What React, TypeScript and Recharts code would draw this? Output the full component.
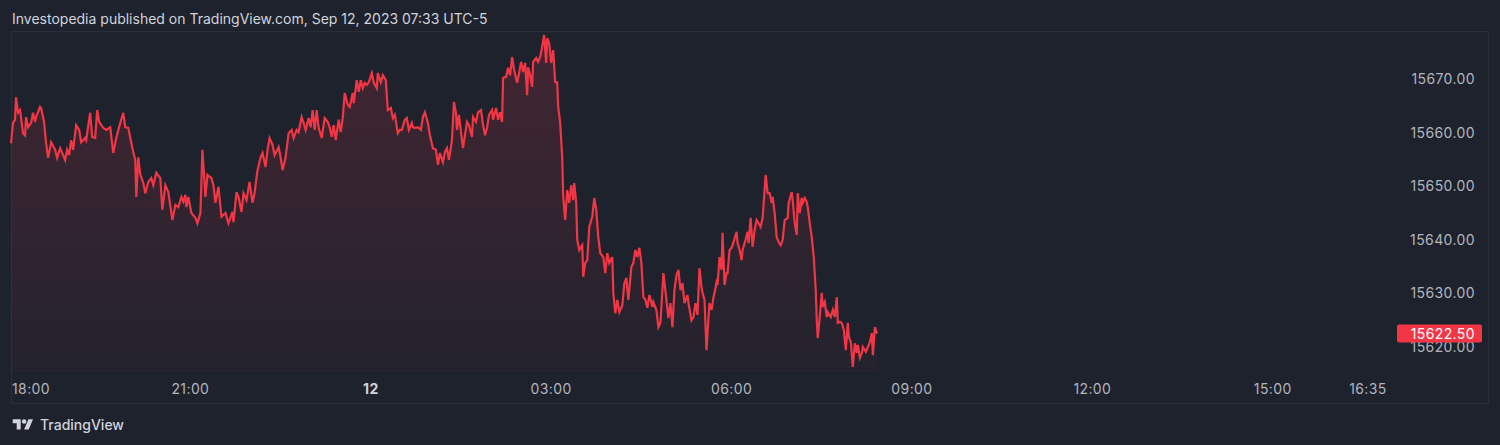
import React from 'react';
import { ComposedChart, Area, XAxis, YAxis } from 'recharts';

// minutes since 18:00 (Sep 11)
const times = [
  1, 3, 5, 6, 8, 10, 11, 13, 15, 16, 18, 21, 23, 25, 26, 30, 31, 34, 36, 38,
  41, 45, 47, 50, 53, 55, 57, 59, 61, 63, 66, 69, 71, 75, 76, 80, 82, 85, 87, 89,
  93, 96, 100, 103, 106, 110, 113, 115, 118, 121, 123, 125, 126, 128, 130, 131, 133, 135, 138, 141,
  143, 146, 150, 152, 155, 158, 162, 165, 168, 171, 173, 175, 176, 178, 181, 185, 187, 190, 192, 195,
  197, 201, 203, 205, 208, 211, 215, 218, 222, 223, 226, 228, 231, 233, 236, 239, 242, 244, 247, 250,
  252, 255, 257, 259, 262, 264, 268, 270, 272, 275, 278, 281, 283, 286, 288, 291, 293, 295, 298, 300,
  302, 304, 306, 308, 311, 314, 317, 319, 321, 323, 325, 328, 330, 332, 334, 337, 339, 342, 343, 346,
  348, 350, 352, 354, 356, 358, 361, 363, 366, 367, 370, 372, 375, 377, 380, 382, 384, 387, 389, 391,
  394, 396, 398, 401, 402, 405, 407, 410, 412, 414, 417, 419, 422, 425, 427, 429, 432, 434, 436, 438,
  441, 443, 445, 446, 448, 451, 452, 456, 458, 461, 462, 465, 467, 470, 472, 474, 476, 478, 481, 482,
  485, 487, 489, 491, 492, 495, 497, 499, 501, 503, 506, 508, 510, 512, 514, 516, 517, 519, 521, 522,
  525, 527, 529, 531, 533, 535, 536, 538, 540, 542, 544, 546, 547, 549, 551, 552, 554, 556, 558, 560,
  562, 563, 565, 566, 568, 571, 572, 574, 576, 578, 581, 583, 585, 587, 589, 592, 594, 596, 598, 601,
  602, 604, 606, 608, 611, 613, 615, 617, 620, 622, 624, 626, 628, 630, 632, 634, 636, 638, 641, 642,
  645, 647, 649, 652, 655, 657, 659, 661, 663, 665, 667, 669, 671, 673, 676, 677, 680, 682, 684, 686,
  688, 690, 691, 693, 695, 697, 698, 700, 702, 704, 705, 706, 708, 710, 711, 713, 715, 716, 718, 720,
  722, 725, 726, 728, 730, 731, 734, 736, 737, 739, 741, 743, 745, 747, 749, 751, 754, 756, 758, 760,
  761, 763, 765, 767, 769, 771, 773, 776, 777, 780, 781, 783, 785, 786, 788, 790, 791, 793, 795, 796,
  798, 800, 802, 804, 805, 806, 808, 810, 811, 813, 815, 816, 819, 821, 823, 825, 826, 828, 830, 832,
  834, 836, 837, 839, 841, 843, 845, 846, 848, 850, 851, 854, 856, 858, 860, 861, 863, 865,
];

const prices = [
  15658.0, 15661.8, 15662.4, 15666.6, 15663.7, 15664.2, 15662.9, 15659.9, 15659.5, 15662.9, 15661.0, 15661.8, 15663.7, 15662.0, 15662.9, 15664.8, 15664.6, 15662.0, 15658.1, 15655.3,
  15658.2, 15656.8, 15655.3, 15657.1, 15655.8, 15654.9, 15656.8, 15655.8, 15658.6, 15656.8, 15661.4, 15660.5, 15658.2, 15659.0, 15658.6, 15663.7, 15659.2, 15659.0, 15664.2, 15662.0,
  15660.9, 15660.5, 15661.0, 15656.2, 15659.0, 15661.8, 15663.7, 15661.0, 15660.9, 15658.1, 15656.4, 15654.9, 15648.0, 15655.4, 15652.1, 15651.7, 15650.6, 15648.7, 15650.8, 15651.5,
  15650.2, 15652.5, 15651.5, 15645.6, 15650.2, 15648.9, 15643.7, 15646.5, 15646.1, 15648.0, 15647.1, 15648.4, 15646.1, 15648.0, 15645.0, 15644.1, 15643.1, 15645.0, 15656.8, 15648.0,
  15652.1, 15651.5, 15650.2, 15646.9, 15649.9, 15644.3, 15645.0, 15643.1, 15645.2, 15643.3, 15648.9, 15648.0, 15645.2, 15648.7, 15647.4, 15650.8, 15646.9, 15648.7, 15653.0, 15655.4,
  15656.2, 15653.6, 15656.8, 15659.0, 15657.7, 15655.8, 15657.3, 15655.4, 15653.0, 15655.4, 15659.9, 15660.5, 15659.0, 15660.5, 15660.1, 15662.9, 15661.8, 15660.5, 15662.7, 15661.0,
  15664.2, 15660.5, 15664.2, 15660.9, 15659.0, 15662.7, 15662.0, 15661.0, 15659.2, 15661.4, 15658.6, 15662.4, 15660.1, 15662.7, 15667.4, 15665.2, 15664.8, 15667.4, 15665.5, 15669.8,
  15667.6, 15669.8, 15668.3, 15669.3, 15668.9, 15669.4, 15671.1, 15669.3, 15668.3, 15671.1, 15669.4, 15670.7, 15669.8, 15664.2, 15664.6, 15662.7, 15663.3, 15659.9, 15660.5, 15660.5,
  15662.4, 15662.7, 15660.5, 15661.8, 15661.0, 15660.9, 15661.0, 15660.5, 15662.9, 15663.8, 15661.8, 15659.5, 15657.1, 15656.8, 15654.0, 15656.2, 15654.5, 15656.4, 15657.1, 15654.9,
  15658.6, 15665.7, 15663.7, 15660.5, 15663.3, 15658.6, 15657.1, 15662.0, 15661.4, 15659.2, 15662.9, 15662.0, 15663.8, 15664.2, 15661.4, 15659.5, 15660.9, 15663.3, 15664.2, 15662.4,
  15664.6, 15662.4, 15663.8, 15662.0, 15670.2, 15670.4, 15672.1, 15670.7, 15674.1, 15671.7, 15669.3, 15671.1, 15673.2, 15671.3, 15673.0, 15667.0, 15672.2, 15670.7, 15668.5, 15673.2,
  15673.9, 15673.2, 15674.1, 15676.0, 15678.2, 15673.0, 15677.6, 15676.7, 15673.0, 15675.4, 15669.4, 15669.4, 15664.8, 15661.8, 15655.4, 15648.0, 15643.7, 15649.3, 15646.9, 15650.2,
  15647.4, 15650.6, 15646.9, 15640.0, 15638.1, 15639.0, 15633.1, 15635.7, 15636.2, 15642.4, 15644.3, 15647.8, 15645.6, 15640.5, 15637.5, 15636.8, 15633.8, 15637.5, 15635.7, 15636.8,
  15630.1, 15626.3, 15628.8, 15626.5, 15627.8, 15631.9, 15632.9, 15628.8, 15634.9, 15635.7, 15638.1, 15636.8, 15638.5, 15635.7, 15629.3, 15628.8, 15627.3, 15629.7, 15627.5, 15628.4,
  15626.9, 15623.7, 15624.5, 15633.8, 15628.8, 15625.4, 15628.2, 15623.7, 15630.6, 15633.4, 15634.4, 15630.6, 15631.9, 15628.2, 15629.7, 15628.2, 15625.0, 15625.6, 15628.2, 15626.0,
  15634.7, 15631.2, 15630.1, 15628.8, 15619.4, 15625.6, 15628.2, 15626.9, 15629.3, 15631.0, 15632.1, 15631.6, 15636.8, 15634.4, 15641.3, 15631.6, 15633.8, 15633.8, 15638.1, 15638.5,
  15639.6, 15641.5, 15639.4, 15638.1, 15636.2, 15638.1, 15640.0, 15641.5, 15639.4, 15644.1, 15638.7, 15641.8, 15643.7, 15643.1, 15642.4, 15644.1, 15652.1, 15648.7, 15648.7, 15646.9,
  15648.0, 15645.0, 15640.5, 15639.6, 15639.0, 15640.0, 15643.7, 15644.1, 15646.9, 15648.9, 15647.4, 15643.1, 15640.9, 15648.7, 15645.0, 15647.8, 15646.9, 15647.8, 15647.1, 15646.1,
  15643.1, 15640.5, 15636.8, 15630.6, 15625.0, 15621.7, 15625.6, 15630.1, 15627.5, 15628.4, 15625.6, 15626.5, 15625.6, 15626.9, 15625.6, 15629.3, 15624.5, 15624.7, 15624.5, 15623.2,
  15619.4, 15624.5, 15621.9, 15620.9, 15616.3, 15620.7, 15618.9, 15620.4, 15618.0, 15618.9, 15620.0, 15619.1, 15620.0, 15620.9, 15622.6, 15618.5, 15623.7, 15622.5,
];

const timeTicks = [0, 180, 360, 540, 720, 900, 1080, 1260, 1355];
const timeLabels = ['18:00', '21:00', '12', '03:00', '06:00', '09:00', '12:00', '15:00', '16:35'];
const priceTicks = [15620, 15630, 15640, 15650, 15660, 15670];
const lastPrice = 15622.5;

const data = times.map((t, i) => ({ t, price: prices[i] }));

const FONT = 'Inter, "Noto Sans", sans-serif';
const BG = '#1e222d';
const RED = '#f23645';

const TimeTick = ({ x, y, payload }: any) => {
  const i = timeTicks.indexOf(payload.value);
  const label = timeLabels[i];
  const isDay = label === '12';
  return (
    <text
      x={i === 0 ? x + 2 : x}
      y={y}
      dy={22}
      textAnchor={i === 0 ? 'start' : 'middle'}
      fill={isDay ? '#d1d4dc' : '#b2b5be'}
      fontSize={14}
      letterSpacing={0.4}
      fontWeight={isDay ? 700 : 400}
      fontFamily={FONT}
    >
      {label}
    </text>
  );
};

const PriceTick = ({ x, y, payload }: any) => {
  const v = payload.value;
  if (v === lastPrice) {
    return (
      <g>
        <rect x={x + 7} y={y - 9} width={85} height={18} rx={2} fill={RED} />
        <text x={x + 85} y={y} dy={5} textAnchor="end" fill="#ffffff" fontSize={14} letterSpacing={0.4} fontFamily={FONT}>
          {v.toFixed(2)}
        </text>
      </g>
    );
  }
  return (
    <text x={x + 85} y={y} dy={5} textAnchor="end" fill="#b2b5be" fontSize={14} letterSpacing={0.4} fontFamily={FONT}>
      {v.toFixed(2)}
    </text>
  );
};

export default function App() {
  return (
    <div style={{ position: 'fixed', left: 0, top: 0, width: 1500, height: 445, background: BG, fontFamily: FONT, overflow: 'hidden' }}>
      <div style={{ position: 'absolute', left: 12, top: 10, fontSize: 14, lineHeight: '18px', color: '#d1d4dc' }}>
        Investopedia published on TradingView.com, Sep 12, 2023 07:33 UTC-5
      </div>

      {/* pane frame */}
      <div style={{ position: 'absolute', left: 11, top: 31, width: 1478, height: 373, border: '1px solid #2a2e39', boxSizing: 'border-box' }} />

      <div style={{ position: 'absolute', left: 10, top: 31 }}>
        <ComposedChart width={1479} height={373} data={data} margin={{ top: 1, right: 0, bottom: 0, left: 0 }}>
          <defs>
            <linearGradient id="areaFill" x1="0" y1="0" x2="0" y2="1">
              <stop offset="0%" stopColor={RED} stopOpacity={0.28} />
              <stop offset="100%" stopColor={RED} stopOpacity={0.04} />
            </linearGradient>
          </defs>
          <XAxis
            dataKey="t"
            type="number"
            domain={[0, 1377]}
            ticks={timeTicks}
            tick={<TimeTick />}
            tickSize={0}
            tickMargin={0}
            axisLine={false}
            tickLine={false}
            height={32}
            interval={0}
          />
          <YAxis
            orientation="right"
            type="number"
            domain={[15615.34, 15678.77]}
            ticks={[...priceTicks, lastPrice]}
            tick={<PriceTick />}
            tickSize={0}
            tickMargin={0}
            axisLine={false}
            tickLine={false}
            width={99}
            interval={0}
          />
          <Area
            type="linear"
            dataKey="price"
            stroke={RED}
            strokeWidth={2.2}
            fill="url(#areaFill)"
            dot={false}
            activeDot={false}
            isAnimationActive={false}
          />
        </ComposedChart>
      </div>

      {/* TradingView logo */}
      <div style={{ position: 'absolute', left: 12, top: 416, display: 'flex', alignItems: 'center', gap: 6 }}>
        <svg width={22} height={16} viewBox="0 0 36 28">
          <path d="M14 22H7V11H0V4h14v18zM28 22h-8l7.5-18h8L28 22z" fill="#d1d4dc" />
          <circle cx={20} cy={8} r={4} fill="#d1d4dc" />
        </svg>
        <span style={{ fontSize: 14, fontWeight: 500, color: '#d1d4dc', lineHeight: '18px' }}>TradingView</span>
      </div>
    </div>
  );
}
